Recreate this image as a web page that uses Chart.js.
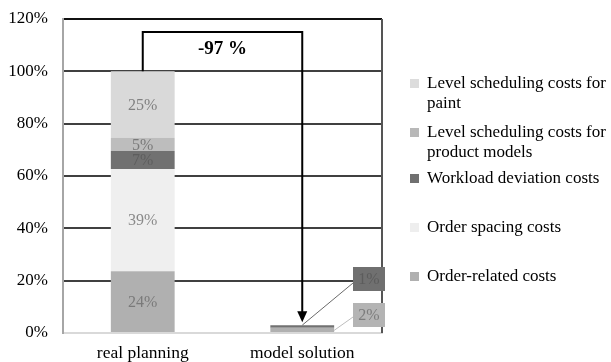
<!DOCTYPE html>
<html lang="en">
<head>
    <meta charset="UTF-8">
    <title>Cost comparison</title>
    <script src="https://cdn.jsdelivr.net/npm/chart.js"></script>
    <style>
        body {
            margin: 0;
            padding: 0;
            background: #ffffff;
        }
        .chart-box {
            position: relative;
            width: 611px;
            height: 362px;
        }
    </style>
</head>
<body>
    <div class="chart-box">
        <canvas id="costChart" width="611" height="362"></canvas>
    </div>

    <script>
        // chart data
        const categories = ['real planning', 'model solution'];
        const seriesNames = [
            'Order-related costs',
            'Order spacing costs',
            'Workload deviation costs',
            'Level scheduling costs for product models',
            'Level scheduling costs for paint'
        ];
        const orderRelated = [23.6, 2.0];
        const orderSpacing = [39.1, 0];
        const workloadDeviation = [6.9, 1.0];
        const levelModels = [5.0, 0];
        const levelPaint = [25.4, 0];
        const segmentLabels = [
            ['24%', '2%'],
            ['39%', ''],
            ['7%', '1%'],
            ['5%', ''],
            ['25%', '']
        ];
        const yTicks = [0, 20, 40, 60, 80, 100, 120];
        const reductionLabel = '-97 %';

        const seriesColors = ['#b0b0b0', '#efefef', '#717171', '#bdbdbd', '#d9d9d9'];
        const labelColors = ['#7a7a7a', '#8a8a8a', '#5e5e5e', '#7a7a7a', '#808080'];
        const serif = '"Liberation Serif", "DejaVu Serif", serif';

        const allValues = [orderRelated, orderSpacing, workloadDeviation, levelModels, levelPaint];

        // legend text, wrapped like the original
        const legendLines = [
            ['Level scheduling costs for', 'paint'],
            ['Level scheduling costs for', 'product models'],
            ['Workload deviation costs'],
            ['Order spacing costs'],
            ['Order-related costs']
        ];
        const legendTops = [83, 132, 178, 227, 276];
        const legendColors = ['#dcdcdc', '#b8b8b8', '#707070', '#eeeeee', '#b0b0b0'];

        const overlay = {
            id: 'overlay',
            afterDatasetsDraw(chart) {
                const ctx = chart.ctx;
                const area = chart.chartArea;
                const xs = chart.scales.x;
                const ys = chart.scales.y;

                ctx.save();
                // right border of plot
                ctx.strokeStyle = '#555555';
                ctx.lineWidth = 2;
                ctx.beginPath();
                ctx.moveTo(area.right, area.top);
                ctx.lineTo(area.right, area.bottom);
                ctx.stroke();

                // labels inside the first bar
                ctx.font = '16px ' + serif;
                ctx.textAlign = 'center';
                ctx.textBaseline = 'middle';
                let base = 0;
                allValues.forEach((vals, i) => {
                    const v = vals[0];
                    const yMid = ys.getPixelForValue(base + v / 2);
                    ctx.fillStyle = labelColors[i];
                    ctx.fillText(segmentLabels[i][0], xs.getPixelForValue(0), yMid + 1);
                    base += v;
                });

                // callouts for the second bar
                const meta = chart.getDatasetMeta(0).data[1];
                const barRight = meta.x + meta.width / 2;
                const x1 = xs.getPixelForValue(1);
                const topModel = orderRelated[1] + workloadDeviation[1];
                const boxX = 353, boxW = 32;

                // 1% box
                ctx.strokeStyle = '#6a6a6a';
                ctx.lineWidth = 1;
                ctx.beginPath();
                ctx.moveTo(x1, ys.getPixelForValue(topModel));
                ctx.lineTo(boxX, 283);
                ctx.stroke();
                ctx.fillStyle = '#707070';
                ctx.fillRect(boxX, 267, boxW, 24);
                ctx.fillStyle = '#5c5c5c';
                ctx.fillText(segmentLabels[2][1], boxX + boxW / 2, 280);

                // 2% box
                ctx.strokeStyle = '#bdbdbd';
                ctx.beginPath();
                ctx.moveTo(barRight, ys.getPixelForValue(orderRelated[1] / 2));
                ctx.lineTo(boxX, 317);
                ctx.stroke();
                ctx.fillStyle = '#b4b4b4';
                ctx.fillRect(boxX, 303, boxW, 24);
                ctx.fillStyle = '#7c7c7c';
                ctx.fillText(segmentLabels[0][1], boxX + boxW / 2, 316);

                // reduction arrow
                const x0 = xs.getPixelForValue(0);
                const yTop = ys.getPixelForValue(115);
                const yEnd = ys.getPixelForValue(topModel) - 3;
                ctx.strokeStyle = '#000000';
                ctx.lineWidth = 2;
                ctx.beginPath();
                ctx.moveTo(x0, ys.getPixelForValue(100));
                ctx.lineTo(x0, yTop);
                ctx.lineTo(x1, yTop);
                ctx.lineTo(x1, yEnd - 9);
                ctx.stroke();
                ctx.fillStyle = '#000000';
                ctx.beginPath();
                ctx.moveTo(x1 - 5, yEnd - 11);
                ctx.lineTo(x1 + 5, yEnd - 11);
                ctx.lineTo(x1, yEnd);
                ctx.closePath();
                ctx.fill();

                ctx.font = 'bold 19px ' + serif;
                ctx.fillText(reductionLabel, (x0 + x1) / 2, 49);

                // legend
                ctx.font = '17px ' + serif;
                ctx.textAlign = 'left';
                ctx.textBaseline = 'middle';
                legendLines.forEach((lines, i) => {
                    const top = legendTops[i];
                    ctx.fillStyle = legendColors[i];
                    ctx.fillRect(410, top - 4, 9, 9);
                    ctx.fillStyle = '#000000';
                    lines.forEach((t, k) => {
                        ctx.fillText(t, 427, top + 1 + k * 20);
                    });
                });
                ctx.restore();
            }
        };

        const ctx = document.getElementById('costChart').getContext('2d');
        new Chart(ctx, {
            type: 'bar',
            data: {
                labels: categories,
                datasets: allValues.map((vals, i) => ({
                    label: seriesNames[i],
                    data: vals,
                    backgroundColor: seriesColors[i],
                    borderWidth: 0,
                    barPercentage: 0.4,
                    categoryPercentage: 1.0
                }))
            },
            options: {
                responsive: false,
                animation: false,
                layout: {
                    padding: { left: 0, right: 229, top: 19, bottom: 0 }
                },
                plugins: {
                    legend: { display: false },
                    tooltip: { enabled: false }
                },
                scales: {
                    x: {
                        stacked: true,
                        grid: { display: false, drawTicks: false },
                        border: { color: '#d9d9d9', width: 2 },
                        ticks: {
                            color: '#000000',
                            font: { family: serif, size: 17.5 },
                            padding: 10
                        },
                        afterFit(scale) {
                            scale.height = 29;
                            scale.paddingLeft = 0;
                            scale.paddingRight = 0;
                        }
                    },
                    y: {
                        stacked: true,
                        min: 0,
                        max: 120,
                        afterBuildTicks(scale) {
                            scale.ticks = yTicks.map(v => ({ value: v }));
                        },
                        grid: {
                            drawTicks: false,
                            lineWidth: 2,
                            color(c) {
                                if (c.tick.value === 0) return '#d9d9d9';
                                if (c.tick.value === 120) return '#111111';
                                return '#404040';
                            }
                        },
                        border: { color: '#a6a6a6', width: 2 },
                        ticks: {
                            color: '#000000',
                            font: { family: serif, size: 17 },
                            padding: 15,
                            callback: v => v + '%'
                        },
                        afterFit(scale) {
                            scale.width = 63;
                            scale.paddingTop = 0;
                            scale.paddingBottom = 0;
                        }
                    }
                }
            },
            plugins: [overlay]
        });
    </script>
</body>
</html>
